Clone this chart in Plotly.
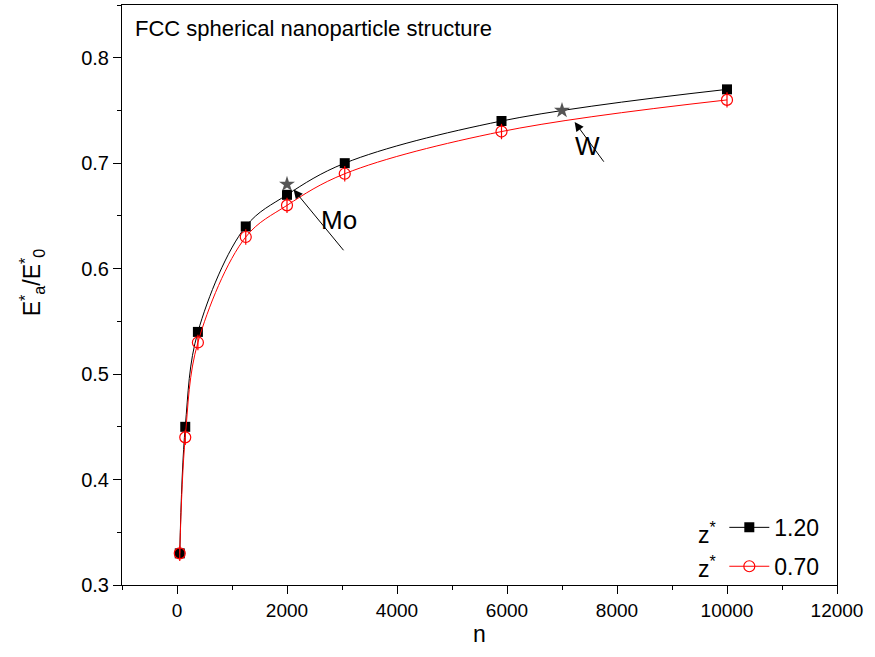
import plotly.graph_objects as go

n_vals = [50, 150, 380, 1250, 2000, 3050, 5900, 10000]
e_z120 = [0.33, 0.45, 0.54, 0.64, 0.67, 0.70, 0.74, 0.77]
e_z070 = [0.33, 0.44, 0.53, 0.63, 0.66, 0.69, 0.73, 0.76]
star_n = [2000, 7000]
star_e = [0.68, 0.75]

FONT = "Liberation Sans, Arial, sans-serif"

fig = go.Figure()
fig.add_trace(go.Scatter(
    x=n_vals, y=e_z120, mode="lines+markers", name="1.20", legendgroup="a",
    line=dict(color="black", width=1, shape="spline", smoothing=1.0),
    marker=dict(symbol="square", size=10, color="black"),
))
fig.add_trace(go.Scatter(
    x=n_vals, y=e_z070, mode="lines+markers", name="0.70", legendgroup="b",
    line=dict(color="red", width=1, shape="spline", smoothing=1.0),
    marker=dict(symbol="circle-open", size=11, color="red", line=dict(width=1.2)),
))
fig.add_trace(go.Scatter(
    x=n_vals, y=e_z070, mode="markers", showlegend=False,
    marker=dict(symbol="line-ns-open", size=11, color="red", line=dict(width=1.2, color="red")),
))
fig.add_trace(go.Scatter(
    x=star_n, y=star_e, mode="markers", showlegend=False,
    marker=dict(symbol="star", size=12, color="#555555"),
))

# arrows
fig.add_annotation(x=2120, y=0.675, ax=3050, ay=0.616, axref="x", ayref="y",
                   xref="x", yref="y", showarrow=True, arrowhead=2, arrowsize=1.8,
                   arrowwidth=1, arrowcolor="black", text="")
fig.add_annotation(x=2950, y=0.646, text="Mo", showarrow=False,
                   font=dict(family=FONT, size=26, color="black"))
fig.add_annotation(x=7230, y=0.739, ax=7780, ay=0.700, axref="x", ayref="y",
                   xref="x", yref="y", showarrow=True, arrowhead=2, arrowsize=1.8,
                   arrowwidth=1, arrowcolor="black", text="")
fig.add_annotation(x=7470, y=0.716, text="W", showarrow=False,
                   font=dict(family=FONT, size=26, color="black"))

fig.add_annotation(x=0.016, y=0.985, xref="paper", yref="paper", xanchor="left", yanchor="top",
                   text="FCC spherical nanoparticle structure", showarrow=False,
                   font=dict(family=FONT, size=22, color="black"))

# y axis title as annotation for placement
fig.add_annotation(x=0, y=0.522, xref="paper", yref="paper", xshift=-108,
                   text="E<sup>*</sup><sub>a</sub>/E<sup>*</sup><sub>0</sub>", textangle=-90,
                   showarrow=False, font=dict(family=FONT, size=23, color="black"))

# legend prefix z*
for yy in [0.090, 0.031]:
    fig.add_annotation(x=0.835, y=yy, xref="paper", yref="paper", xanchor="right", yanchor="middle",
                       text="z<sup>*</sup>", showarrow=False,
                       font=dict(family=FONT, size=23, color="black"))

axis_common = dict(
    showline=True, linecolor="black", linewidth=1, mirror=True,
    ticks="outside", ticklen=8, tickwidth=1, tickcolor="black",
    showgrid=False, zeroline=False,
)
fig.update_xaxes(range=[-1000, 12000], dtick=2000, tick0=0, tickformat="d",
                 tickfont=dict(family=FONT, size=19, color="black"),
                 minor=dict(dtick=1000, ticklen=4, ticks="outside", tickcolor="black"),
                 title=dict(text="n", font=dict(family=FONT, size=23, color="black"), standoff=6),
                 **axis_common)
fig.update_yaxes(range=[0.3, 0.85], dtick=0.1, tick0=0.3, tickformat=".1f",
                 tickfont=dict(family=FONT, size=20, color="black"),
                 minor=dict(dtick=0.05, ticklen=4, ticks="outside", tickcolor="black"),
                 **axis_common)

fig.update_layout(
    width=875, height=657,
    margin=dict(l=122, r=38, t=5, b=72),
    paper_bgcolor="white", plot_bgcolor="white",
    font=dict(family=FONT, color="black"),
    legend=dict(x=0.8424, y=-0.005, xanchor="left", yanchor="bottom",
                bgcolor="rgba(0,0,0,0)", font=dict(family=FONT, size=23, color="black"),
                itemwidth=40, tracegroupgap=6),
)

fig.write_html("out.html")
